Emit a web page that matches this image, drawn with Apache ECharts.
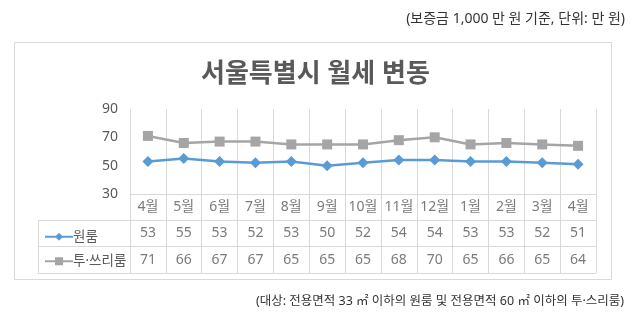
<!DOCTYPE html>
<html>
<head>
<meta charset="utf-8">
<script src="https://cdn.jsdelivr.net/npm/echarts@6/dist/echarts.min.js"></script>
<style>
html,body{margin:0;padding:0;background:#fff;}
#c{width:640px;height:322px;}
</style>
</head>
<body>
<div id="c"></div>
<script>
const months = ['4월','5월','6월','7월','8월','9월','10월','11월','12월','1월','2월','3월','4월'];
const oneRoom = [53,55,53,52,53,50,52,54,54,53,53,52,51];
const twoThreeRoom = [71,66,67,67,65,65,65,68,70,65,66,65,64];
const seriesNames = ['원룸','투·쓰리룸'];
const yTicks = {min:30, max:90, interval:20};
const titleText = '서울특별시 월세 변동';
const topNote = '(보증금 1,000 만 원 기준, 단위: 만 원)';
const bottomNote = '(대상: 전용면적 33 ㎡ 이하의 원룸 및 전용면적 60 ㎡ 이하의 투·스리룸)';

const FONT = '"Noto Sans", "Noto Sans CJK KR", sans-serif';
const GRID = '#d9d9d9';
const TXT = '#595959';

const headerCells = months.map((m,i)=>[i,0,m]);
const row1Cells = oneRoom.map((v,i)=>[i,1,v]);
const row2Cells = twoThreeRoom.map((v,i)=>[i,2,v]);

const cellLabel = {show:true, position:'inside', formatter:p=>String(p.value[2]), color:TXT, fontSize:14, fontFamily:FONT};

const chart = echarts.init(document.getElementById('c'), null, {renderer:'canvas'});
chart.setOption({
  animation:false,
  textStyle:{fontFamily:FONT},
  title:[
    {text:titleText, left:196, top:57, textStyle:{fontSize:26, fontWeight:'bold', color:TXT, fontFamily:FONT}},
    {text:topNote, right:10, top:7, textStyle:{fontSize:14, fontWeight:'normal', color:'#333', fontFamily:FONT}},
    {text:bottomNote, right:11, top:290, textStyle:{fontSize:12.5, fontWeight:'normal', color:'#333', fontFamily:FONT}}
  ],
  graphic:[{type:'rect', shape:{x:14.5,y:42.5,width:597,height:237}, style:{fill:'none', stroke:GRID, lineWidth:1}, z:-1}],
  legend:{
    data:seriesNames, orient:'vertical', left:39, top:225, itemGap:11,
    itemWidth:28, itemHeight:10,
    textStyle:{fontSize:13.5, color:TXT, fontFamily:FONT, padding:[0,0,0,-5]}
  },
  grid:[
    {left:130, right:44, top:109, height:85},
    {left:130, right:44, top:194, height:79},
    {left:38, width:92, top:220, height:53}
  ],
  xAxis:[
    {gridIndex:0, type:'category', data:months, boundaryGap:true,
     axisLine:{show:true, lineStyle:{color:GRID}}, axisTick:{show:false}, axisLabel:{show:false},
     splitLine:{show:true, lineStyle:{color:GRID}}},
    {gridIndex:1, type:'category', data:months, boundaryGap:true,
     axisLine:{show:false}, axisTick:{show:false}, axisLabel:{show:false},
     splitLine:{show:true, lineStyle:{color:GRID}}},
    {gridIndex:2, type:'category', data:[''], boundaryGap:true,
     axisLine:{show:false}, axisTick:{show:false}, axisLabel:{show:false},
     splitLine:{show:true, lineStyle:{color:GRID}}}
  ],
  yAxis:[
    {gridIndex:0, type:'value', min:yTicks.min, max:yTicks.max, interval:yTicks.interval,
     axisLine:{show:false}, axisTick:{show:false}, splitLine:{show:false},
     axisLabel:{color:TXT, fontSize:14, margin:12, fontFamily:FONT}},
    {gridIndex:1, type:'category', data:['', ...seriesNames], inverse:true, boundaryGap:true,
     axisLine:{show:false}, axisTick:{show:false}, axisLabel:{show:false},
     splitLine:{show:true, lineStyle:{color:GRID}}},
    {gridIndex:2, type:'category', data:seriesNames, inverse:true, boundaryGap:true,
     axisLine:{show:false}, axisTick:{show:false}, axisLabel:{show:false},
     splitLine:{show:true, lineStyle:{color:GRID}}}
  ],
  series:[
    {name:seriesNames[0], type:'line', xAxisIndex:0, yAxisIndex:0, data:oneRoom,
     symbol:'diamond', symbolSize:11, color:'#5B9BD5', lineStyle:{width:2.5, color:'#5B9BD5'},
     itemStyle:{color:'#5B9BD5'}},
    {name:seriesNames[1], type:'line', xAxisIndex:0, yAxisIndex:0, data:twoThreeRoom,
     symbol:'rect', symbolSize:10, color:'#A5A5A5', lineStyle:{width:2.5, color:'#A5A5A5'},
     itemStyle:{color:'#A5A5A5'}},
    {type:'scatter', xAxisIndex:1, yAxisIndex:1, symbolSize:0, data:headerCells, label:cellLabel, silent:true},
    {type:'scatter', xAxisIndex:1, yAxisIndex:1, symbolSize:0, data:row1Cells, label:cellLabel, silent:true},
    {type:'scatter', xAxisIndex:1, yAxisIndex:1, symbolSize:0, data:row2Cells, label:cellLabel, silent:true}
  ]
});
</script>
</body>
</html>
